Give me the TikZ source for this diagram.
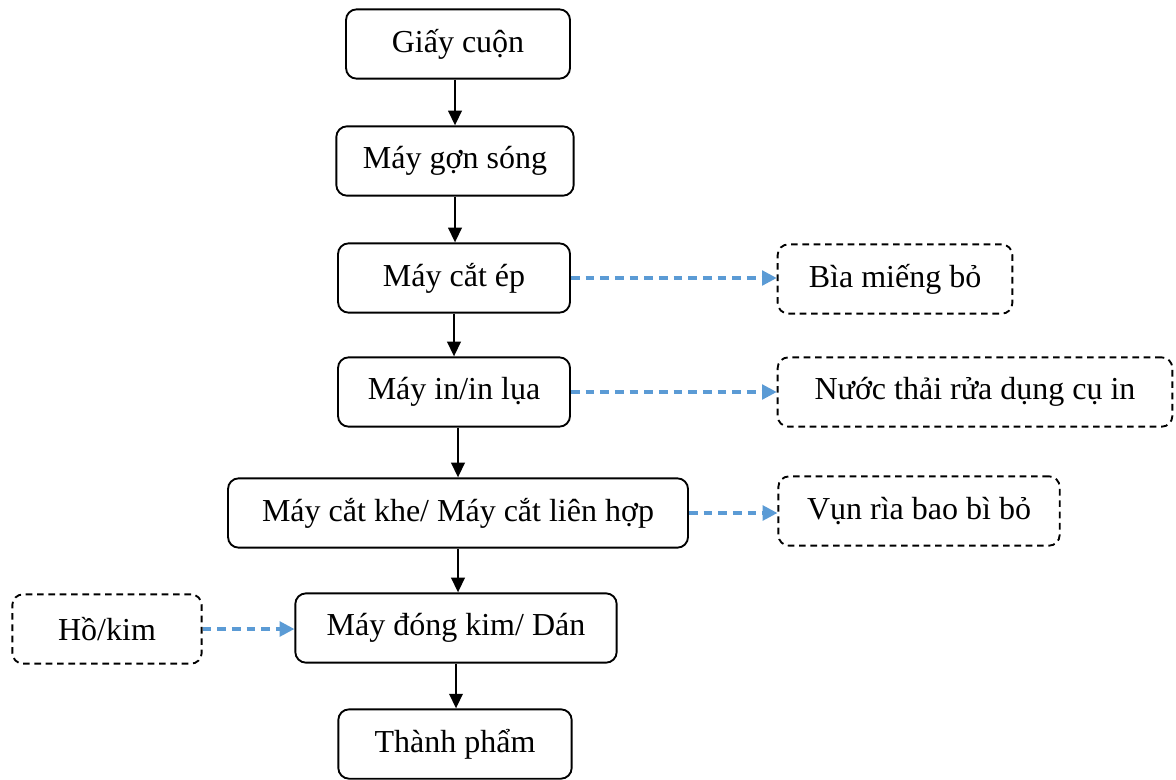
\documentclass[tikz,border=0pt]{standalone}
\usepackage{fontspec}
\setmainfont{Liberation Serif}
\usetikzlibrary{arrows.meta}
\definecolor{sideblue}{RGB}{91,155,213}

\begin{document}
\begin{tikzpicture}[x=0.75pt,y=-0.75pt,
  font=\fontsize{24}{28}\selectfont,
  box/.style={draw,rounded corners=8pt,line width=1.4pt,minimum height=52pt,inner sep=0pt},
  waste/.style={box,dash pattern=on 5pt off 3.5pt},
  flow/.style={line width=1.8pt,-{Triangle[length=11pt,width=10pt]}},
  side/.style={draw=sideblue,line width=2.4pt,dash pattern=on 6.5pt off 4.5pt,-{Triangle[length=11pt,width=11pt]}}]
\useasboundingbox (0,0) rectangle (1176,779);
% main line
\node[box,minimum width=168pt] (giay) at (458,44) {Giấy cuộn};
\node[box,minimum width=178pt] (gonsong) at (455,161) {Máy gợn sóng};
\node[box,minimum width=174pt] (catep) at (454,278) {Máy cắt ép};
\node[box,minimum width=174pt] (inlua) at (454,392) {Máy in/in lụa};
\node[box,minimum width=345pt] (catkhe) at (458,513) {Máy cắt khe/ Máy cắt liên hợp};
\node[box,minimum width=241pt] (dongkim) at (456,628) {Máy đóng kim/ Dán};
\node[box,minimum width=175pt] (thanhpham) at (455,744) {Thành phẩm};
% side boxes
\node[waste,minimum width=176pt] (bia) at (895,279) {Bìa miếng bỏ};
\node[waste,minimum width=296pt] (nuocthai) at (975,392) {Nước thải rửa dụng cụ in};
\node[waste,minimum width=211pt] (vunria) at (919,511) {Vụn rìa bao bì bỏ};
\node[waste,minimum width=142pt] (hokim) at (107,629) {Hồ/kim};
% arrows
\draw[flow] (gonsong.north |- giay.south) -- (gonsong.north);
\draw[flow] (gonsong.south) -- (gonsong.south |- catep.north);
\draw[flow] (catep.south) -- (catep.south |- inlua.north);
\draw[flow] (catkhe.north |- inlua.south) -- (catkhe.north);
\draw[flow] (catkhe.south) -- (catkhe.south |- dongkim.north);
\draw[flow] (dongkim.south) -- (dongkim.south |- thanhpham.north);
\draw[side] (catep.east) -- (catep.east -| bia.west);
\draw[side] (inlua.east) -- (inlua.east -| nuocthai.west);
\draw[side] (catkhe.east) -- (catkhe.east -| vunria.west);
\draw[side] (hokim.east) -- (hokim.east -| dongkim.west);
\end{tikzpicture}
\end{document}
